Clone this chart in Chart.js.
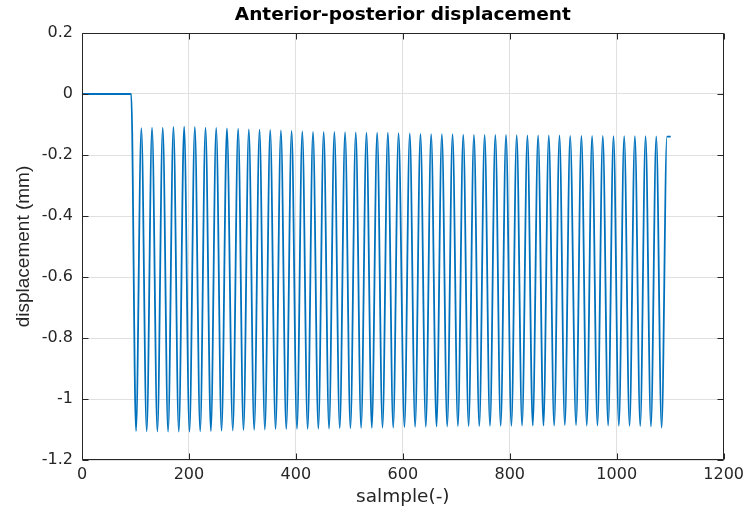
<!DOCTYPE html>
<html>
<head>
<meta charset="utf-8">
<script src="https://cdn.jsdelivr.net/npm/chart.js@4/dist/chart.umd.min.js"></script>
<style>
  html, body { margin: 0; padding: 0; background: #ffffff; }
  #wrap { width: 749px; height: 520px; }
</style>
</head>
<body>
<div id="wrap"><canvas id="c" width="749" height="520"></canvas></div>
<script>
// Resting level before loading starts (sample, displacement mm)
const restSamples = [0, 92];
const restValues = [0, 0];

// Lowest point of each loading cycle
const troughSamples = [101, 121, 141, 161, 181, 201, 221, 241, 261, 282,
  302, 322, 342, 362, 382, 402, 422, 442, 462, 482,
  502, 522, 542, 562, 582, 603, 623, 643, 663, 683,
  703, 723, 743, 763, 783, 803, 823, 843, 863, 883,
  903, 924, 944, 964, 984, 1004, 1024, 1044, 1064, 1084];
const troughValues = [-1.105, -1.106, -1.106, -1.107, -1.107, -1.107, -1.106, -1.105, -1.104, -1.103,
  -1.102, -1.101, -1.100, -1.099, -1.099, -1.098, -1.098, -1.097, -1.097, -1.096,
  -1.096, -1.095, -1.095, -1.094, -1.094, -1.092, -1.091, -1.091, -1.090, -1.090,
  -1.089, -1.089, -1.089, -1.088, -1.088, -1.088, -1.087, -1.087, -1.087, -1.087,
  -1.086, -1.086, -1.087, -1.087, -1.087, -1.088, -1.088, -1.089, -1.090, -1.094];

// Highest point of each loading cycle
const peakSamples = [111, 131, 151, 171, 191, 211, 231, 251, 271, 292,
  312, 332, 352, 372, 392, 412, 432, 452, 472, 492,
  512, 532, 552, 572, 592, 613, 633, 653, 673, 693,
  713, 733, 753, 773, 793, 813, 833, 853, 873, 893,
  913, 934, 954, 974, 994, 1014, 1034, 1054, 1074, 1094];
const peakValues = [-0.112, -0.110, -0.110, -0.108, -0.107, -0.108, -0.110, -0.111, -0.113, -0.114,
  -0.116, -0.117, -0.118, -0.119, -0.121, -0.123, -0.124, -0.124, -0.124, -0.125,
  -0.126, -0.127, -0.127, -0.127, -0.128, -0.129, -0.131, -0.132, -0.132, -0.132,
  -0.133, -0.134, -0.134, -0.134, -0.134, -0.135, -0.136, -0.136, -0.136, -0.136,
  -0.137, -0.137, -0.137, -0.137, -0.138, -0.138, -0.138, -0.138, -0.139, -0.140];

// Hold after the last cycle
const holdSamples = [1101];
const holdValues = [-0.140];

const xTickValues = [0, 200, 400, 600, 800, 1000, 1200];
const yTickValues = [0.2, 0, -0.2, -0.4, -0.6, -0.8, -1, -1.2];

// Assemble the trace in sample order
const trace = [];
restSamples.forEach((s, i) => trace.push({ x: s, y: restValues[i] }));
troughSamples.forEach((s, i) => {
  trace.push({ x: s, y: troughValues[i] });
  trace.push({ x: peakSamples[i], y: peakValues[i] });
});
holdSamples.forEach((s, i) => trace.push({ x: s, y: holdValues[i] }));

const AXIS_COLOR = '#262626';
const GRID_COLOR = '#e0e0e0';
const TICK_FONT = { family: 'DejaVu Sans', size: 16 };
const plainNumber = v => String(+Number(v).toFixed(1));

// Box around the axes with inward tick marks, plus the plot title
const axesBox = {
  id: 'axesBox',
  afterDraw(chart) {
    const { ctx, chartArea: a, scales } = chart;
    const L = Math.round(a.left) + 0.5, R = Math.round(a.right) - 0.5;
    const T = Math.round(a.top) + 0.5, B = Math.round(a.bottom) - 0.5;
    const len = 6;
    ctx.save();
    ctx.strokeStyle = AXIS_COLOR;
    ctx.lineWidth = 1;
    ctx.beginPath();
    ctx.rect(L, T, R - L, B - T);
    xTickValues.forEach(v => {
      const px = Math.round(scales.x.getPixelForValue(v)) + 0.5;
      ctx.moveTo(px, B); ctx.lineTo(px, B - len);
      ctx.moveTo(px, T); ctx.lineTo(px, T + len);
    });
    yTickValues.forEach(v => {
      const py = Math.round(scales.y.getPixelForValue(v)) + 0.5;
      ctx.moveTo(L, py); ctx.lineTo(L + len, py);
      ctx.moveTo(R, py); ctx.lineTo(R - len, py);
    });
    ctx.stroke();

    ctx.fillStyle = '#000000';
    ctx.font = 'bold 18.5px "DejaVu Sans"';
    ctx.textAlign = 'center';
    ctx.textBaseline = 'middle';
    ctx.fillText('Anterior-posterior displacement', (a.left + a.right) / 2, 15);
    ctx.restore();
  }
};

new Chart(document.getElementById('c'), {
  type: 'line',
  data: {
    datasets: [{
      data: trace,
      borderColor: '#0072BD',
      borderWidth: 1.8,
      pointRadius: 0,
      fill: false,
      cubicInterpolationMode: 'monotone'
    }]
  },
  options: {
    responsive: false,
    animation: false,
    devicePixelRatio: 1,
    layout: { padding: { top: 33, right: 25, left: 0, bottom: 0 } },
    plugins: {
      legend: { display: false },
      title: { display: false },
      tooltip: { enabled: false }
    },
    scales: {
      x: {
        type: 'linear',
        min: 0,
        max: 1200,
        afterBuildTicks(s) { s.ticks = xTickValues.map(v => ({ value: v })); },
        afterFit(s) { s.height = 60; },
        ticks: { color: AXIS_COLOR, font: TICK_FONT, padding: 5, maxRotation: 0, autoSkip: false, callback: plainNumber },
        grid: { color: GRID_COLOR, drawTicks: false },
        border: { display: false },
        title: {
          display: true,
          text: 'salmple(-)',
          color: AXIS_COLOR,
          font: { family: 'DejaVu Sans', size: 18.5 },
          padding: { top: 0, bottom: 12 }
        }
      },
      y: {
        type: 'linear',
        min: -1.2,
        max: 0.2,
        afterBuildTicks(s) { s.ticks = yTickValues.map(v => ({ value: v })); },
        afterFit(s) { s.width = 82; },
        ticks: {
          color: AXIS_COLOR,
          font: TICK_FONT,
          padding: 9,
          autoSkip: false,
          callback: plainNumber
        },
        grid: { color: GRID_COLOR, drawTicks: false },
        border: { display: false },
        title: {
          display: true,
          text: 'displacement (mm)',
          color: AXIS_COLOR,
          font: { family: 'Liberation Sans', size: 19 },
          padding: { top: 12, bottom: 0 }
        }
      }
    }
  },
  plugins: [axesBox]
});
</script>
</body>
</html>
